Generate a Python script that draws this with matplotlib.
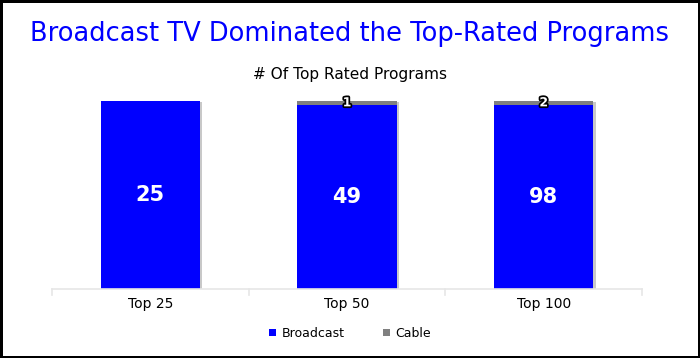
import matplotlib.pyplot as plt
import matplotlib.patheffects as pe
import numpy as np

# Data
categories = ["Top 25", "Top 50", "Top 100"]
broadcast = [25, 49, 98]
cable = [0, 1, 2]

totals = np.array(broadcast) + np.array(cable)
bc_share = np.array(broadcast) / totals
cb_share = np.array(cable) / totals

fig = plt.figure(figsize=(7, 3.58), dpi=100)
fig.patch.set_edgecolor("black")
fig.patch.set_linewidth(2.5)

fig.text(0.5, 0.905, "Broadcast TV Dominated the Top-Rated Programs", ha="center", va="center",
         color="#0000ff", fontsize=18.55, family="DejaVu Sans")
fig.text(0.5, 0.793, "# Of Top Rated Programs", ha="center", va="center",
         color="black", fontsize=11.1, family="DejaVu Sans")

ax = fig.add_axes([0.0743, 0.193, 0.843, 0.525])
x = np.arange(len(categories))
w = 0.505

# shadow behind bars
ax.bar(x + 0.012, bc_share + cb_share, w, bottom=-0.008, color="#c8c8c8", zorder=1)
ax.bar(x, bc_share, w, color="#0000ff", zorder=2, label="Broadcast")
ax.bar(x, cb_share, w, bottom=bc_share, color="#808080", zorder=2, label="Cable")

for i in range(len(categories)):
    ax.text(x[i], bc_share[i] / 2, str(broadcast[i]), ha="center", va="center",
            color="white", fontsize=15, fontweight="bold", zorder=3)
    if cable[i] > 0:
        ax.text(x[i], bc_share[i] + cb_share[i] / 2, str(cable[i]), ha="center", va="center",
                color="white", fontsize=9, fontweight="bold", zorder=3,
                path_effects=[pe.withStroke(linewidth=2.5, foreground="black")])

ax.set_xlim(-0.5, 2.5)
ax.set_ylim(0, 1)
ax.set_yticks([])
for s in ["top", "left", "right"]:
    ax.spines[s].set_visible(False)
ax.spines["bottom"].set_color("#e6e6e6")
ax.spines["bottom"].set_linewidth(1.2)
ax.set_xticks(x)
ax.set_xticklabels(categories, fontsize=10)
ax.tick_params(axis="x", length=0, pad=6)
for b in [-0.5, 0.5, 1.5, 2.5]:
    ax.plot([b, b], [0, -0.035], color="#e6e6e6", lw=1.2, clip_on=False)

handles, labels = ax.get_legend_handles_labels()
fig.legend(handles, labels, loc="center", bbox_to_anchor=(0.5, 0.068), ncol=2, frameon=False,
           fontsize=9, handlelength=0.55, handleheight=0.55, columnspacing=3.1, handletextpad=0.4)

plt.savefig("out.png", dpi=100, edgecolor=fig.get_edgecolor())
